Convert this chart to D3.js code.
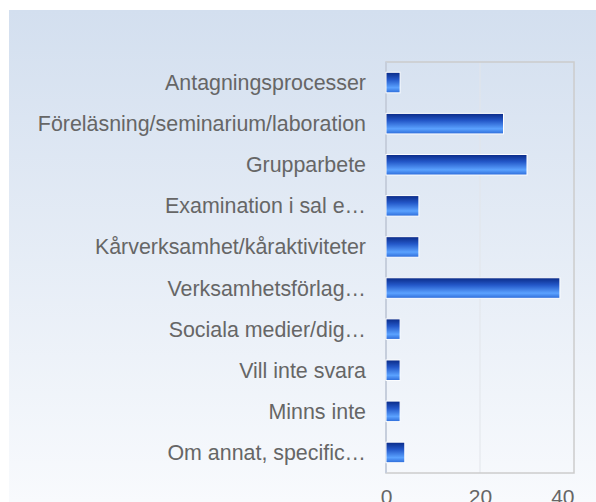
<!DOCTYPE html>
<html>
<head>
<meta charset="utf-8">
<script src="https://cdn.jsdelivr.net/npm/d3@7"></script>
<style>
  html, body { margin: 0; padding: 0; background: #fff; }
  svg { display: block; }
</style>
</head>
<body>
<div id="chart"></div>
<script>
const categories = [
    "Antagningsprocesser",
    "Föreläsning/seminarium/laboration",
    "Grupparbete",
    "Examination i sal e…",
    "Kårverksamhet/kåraktiviteter",
    "Verksamhetsförlag…",
    "Sociala medier/dig…",
    "Vill inte svara",
    "Minns inte",
    "Om annat, specific…"
];
const values = [3, 25, 30, 7, 7, 37, 3, 3, 3, 4];
const xTicks = [0, 20, 40];

const svgWidth = 596;
const svgHeight = 502;
const margin = { top: 62, right: 22, bottom: 29, left: 386 };
const width = svgWidth - margin.left - margin.right;
const height = svgHeight - margin.top - margin.bottom;

const svg = d3.select("#chart")
    .append("svg")
    .attr("width", svgWidth)
    .attr("height", svgHeight);

const defs = svg.append("defs");

const bg = defs.append("linearGradient").attr("id", "bg").attr("x1", 0).attr("y1", 0).attr("x2", 0).attr("y2", 1);
bg.append("stop").attr("offset", "0%").attr("stop-color", "#d3dfef");
bg.append("stop").attr("offset", "100%").attr("stop-color", "#f8fafd");

const barGrad = defs.append("linearGradient").attr("id", "bar").attr("x1", 0).attr("y1", 0).attr("x2", 0).attr("y2", 1);
barGrad.append("stop").attr("offset", "0%").attr("stop-color", "#0a2a86");
barGrad.append("stop").attr("offset", "35%").attr("stop-color", "#2357c8");
barGrad.append("stop").attr("offset", "75%").attr("stop-color", "#5ba2ff");
barGrad.append("stop").attr("offset", "100%").attr("stop-color", "#2c6ad8");

svg.append("rect")
    .attr("x", 9).attr("y", 10)
    .attr("width", svgWidth - 9).attr("height", svgHeight - 10)
    .attr("fill", "url(#bg)");

const x = d3.scaleLinear().domain([0, 40]).range([0, width]);
const y = d3.scaleBand().domain(categories).range([0, height]).paddingInner(0.5).paddingOuter(0.25);

const g = svg.append("g").attr("transform", `translate(${margin.left},${margin.top})`);

// gridlines
g.append("g").selectAll("line").data(xTicks.slice(1, -1)).enter().append("line")
    .attr("x1", d => x(d)).attr("x2", d => x(d))
    .attr("y1", 0).attr("y2", height)
    .attr("stroke", "#e2e5ea").attr("stroke-width", 1);

// frame
g.append("rect")
    .attr("x", 0).attr("y", 0)
    .attr("width", width).attr("height", height)
    .attr("fill", "none")
    .attr("stroke", "#cccccc").attr("stroke-width", 1.5);

g.append("line")
    .attr("x1", 0).attr("x2", 0).attr("y1", 0).attr("y2", height)
    .attr("stroke", "#c6cedc").attr("stroke-width", 2);

// bars
g.append("g").selectAll("rect").data(values).enter().append("rect")
    .attr("x", 0)
    .attr("y", (d, i) => y(categories[i]))
    .attr("width", d => x(d))
    .attr("height", y.bandwidth())
    .attr("fill", "url(#bar)")
    .attr("stroke", "#ffffff")
    .attr("stroke-width", 1);

// category labels
const yAxis = g.append("g").call(d3.axisLeft(y).tickSize(0).tickPadding(20));
yAxis.select(".domain").remove();
yAxis.selectAll("text")
    .attr("fill", "#666666")
    .attr("dy", "0.35em")
    .style("font-family", "'Liberation Sans', Arial, sans-serif")
    .style("font-size", "21.4px");

// x tick labels (last one kept inside the frame)
const xAxis = g.append("g").attr("transform", `translate(0,${height})`)
    .call(d3.axisBottom(x).tickValues(xTicks).tickSize(0).tickPadding(16));
xAxis.select(".domain").remove();
xAxis.selectAll("text")
    .attr("fill", "#666666")
    .attr("dy", "0.71em")
    .attr("text-anchor", d => d === xTicks[xTicks.length - 1] ? "end" : "middle")
    .style("font-family", "'Liberation Sans', Arial, sans-serif")
    .style("font-size", "21px");
</script>
</body>
</html>
